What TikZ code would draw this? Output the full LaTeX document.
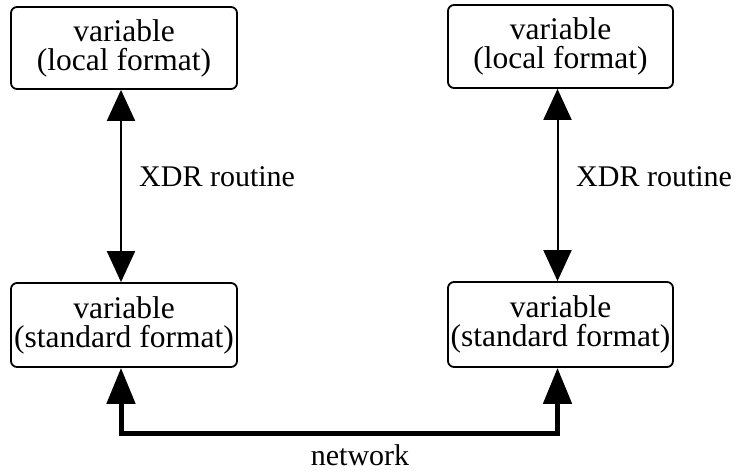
\documentclass[tikz,border=0pt]{standalone}
\usepackage{fontspec}
\setmainfont{Liberation Serif}
\usetikzlibrary{arrows.meta}
\begin{document}
\begin{tikzpicture}[x=1pt,y=-1pt,
  varbox/.style={draw,line width=1.8pt,rounded corners=6pt,align=center,inner sep=0pt,
    font=\fontsize{31.5}{29}\selectfont},
  xdr/.style={line width=2pt,{Triangle[width=28pt,length=31pt]}-{Triangle[width=28pt,length=31pt]}},
  net/.style={line width=5pt,{Triangle[width=28pt,length=36pt]}-{Triangle[width=28pt,length=36pt]}},
  lbl/.style={font=\fontsize{30}{29}\selectfont,inner sep=0pt}]
\useasboundingbox (0,0) rectangle (739,474);
\node[varbox,minimum width=226pt,minimum height=82pt] (tl) at (124,48) {variable\\(local format)};
\node[varbox,minimum width=226pt,minimum height=84pt] (bl) at (124,325) {variable\\(standard format)};
\node[varbox,minimum width=225pt,minimum height=83pt] (tr) at (560.5,46.5) {variable\\(local format)};
\node[varbox,minimum width=225pt,minimum height=85pt] (br) at (560.5,324.5) {variable\\(standard format)};
\draw[xdr] ([xshift=-3pt]tl.south) -- ([xshift=-3pt]bl.north);
\draw[xdr] ([xshift=-3pt]tr.south) -- ([xshift=-3pt]br.north);
\node[lbl,anchor=west] (x1) at (139,177) {XDR routine};
\node[lbl,anchor=west] (x2) at (576,177) {XDR routine};
\draw[net] ([xshift=-3pt]bl.south) -- ++(0,66) -| ([xshift=-3pt]br.south);
\node[lbl] (nw) at (360,455) {network};
\end{tikzpicture}
\end{document}
